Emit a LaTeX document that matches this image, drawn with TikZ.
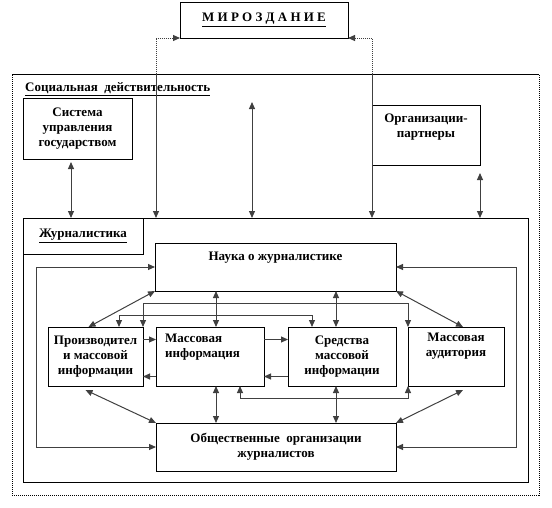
\documentclass[tikz,border=0pt]{standalone}
\usepackage{fontspec}
\setmainfont{Liberation Serif}
\usetikzlibrary{arrows.meta}

\begin{document}
\begin{tikzpicture}[x=1pt, y=-1pt,
  >={Triangle[length=7pt,width=6pt]},
  txt/.style={font=\bfseries\fontsize{13}{15}\selectfont, align=center, inner sep=0pt},
  box/.style={draw=black, line width=0.8pt, inner sep=0pt, outer sep=0pt, anchor=north west, txt},
  dots/.style={dash pattern=on 1pt off 1pt},
  link/.style={draw=black!75, line width=1pt},
  dotlink/.style={draw=black!75, line width=1pt, dots}]
\useasboundingbox (0,0) rectangle (552,507);

% outer frames
\node[box, dots, minimum width=527, minimum height=421] (soc) at (12,74) {};
\draw[line width=0.8pt] (soc.north west) -- (soc.north east);
\node[txt, anchor=west] (soclab) at (25,89) {\underline{Социальная\ \ действительность}};
\node[box, minimum width=168, minimum height=36] (mir) at (180,2) {\underline{М И Р О З Д А Н И Е}};
\node[box, minimum width=109, minimum height=61] (sys) at (23,98) {Система\\управления\\государством};
\node[box, minimum width=108, minimum height=60,
  label={[txt, anchor=north, yshift=-9pt]north:Организации-\\партнеры}] (org) at (372,105) {};
\node[box, minimum width=505, minimum height=264] (jour) at (23,218) {};
\node[box, minimum width=120, minimum height=36] (jourlab) at (23,218) {\underline{Журналистика}};

% inner boxes
\node[box, minimum width=241, minimum height=48,
  label={[txt, anchor=north, yshift=-9pt]north:Наука о журналистике}] (nauka) at (155,243) {};
\node[box, minimum width=95, minimum height=59] (proizv) at (48,327) {Производител\\и массовой\\информации};
\node[box, minimum width=108, minimum height=59,
  label={[txt, anchor=north west, align=left, xshift=9pt, yshift=-7pt]north west:Массовая\\информация}] (massinf) at (156,327) {};
\node[box, minimum width=108, minimum height=59] (smi) at (288,327) {Средства\\массовой\\информации};
\node[box, minimum width=96, minimum height=59,
  label={[txt, anchor=north, yshift=-6pt]north:Массовая\\аудитория}] (aud) at (408,327) {};
\node[box, minimum width=240, minimum height=48] (obsch) at (156,423) {Общественные\ \ организации\\журналистов};

% links to the outside
\coordinate (wl) at (156,74);
\coordinate (wr) at (372,74);
\coordinate (mid) at (252,102);
\draw[dotlink, <-] (mir.south west) -| (wl);
\draw[dotlink, <-] (mir.south east) -| (wr);
\draw[link, ->] (wl) -- (wl |- jour.north);
\draw[link, ->] (wr) -- (wr |- jour.north);
\draw[link, <->] (mid) -- (mid |- jour.north);
\draw[link, <->] ([xshift=-6.5pt,yshift=-3pt]sys.south) -- ([xshift=-6.5pt]sys.south |- jour.north);
\draw[link, <->] ([yshift=-8pt]org.south east) -- (org.south east |- jour.north);

% links inside
\draw[link, <->] (nauka.south west) -- ([xshift=-7pt]proizv.north);
\draw[link, <->] (nauka.south east) -- ([xshift=7pt]aud.north);
\draw[link, <->] ([xshift=6pt]massinf.north |- nauka.south) -- ([xshift=6pt]massinf.north);
\draw[link, <->] ([xshift=-6pt]smi.north |- nauka.south) -- ([xshift=-6pt]smi.north);
\draw[link, <->] (proizv.north east) |- ++(0,-24) -| (aud.north west);
\draw[link, <->] ([xshift=-24pt]proizv.north east) |- ++(0,-12) -| ([xshift=24pt]smi.north west);
\draw[link, ->] ([yshift=17pt]proizv.east) -- ([yshift=17pt]massinf.west);
\draw[link, ->] ([yshift=-20pt]massinf.west) -- ([yshift=-20pt]proizv.east);
\draw[link, ->] ([yshift=17pt]massinf.east) -- ([yshift=17pt]smi.west);
\draw[link, ->] ([yshift=-20pt]smi.west) -- ([yshift=-20pt]massinf.east);
\draw[link, <->] ([xshift=-24pt]massinf.south east) |- ++(0,12) -| (aud.south west);
\draw[link, <->] ([xshift=6pt]massinf.south) -- ([xshift=6pt]massinf.south |- obsch.north);
\draw[link, <->] ([xshift=-6pt]smi.south) -- ([xshift=-6pt]smi.south |- obsch.north);
\draw[link, <->] ([xshift=-10pt,yshift=-4pt]proizv.south) -- (obsch.north west);
\draw[link, <->] ([xshift=7pt,yshift=-4pt]aud.south) -- (obsch.north east);
\draw[link, <->] (nauka.west) -- ++(-119,0) |- (obsch.west);
\draw[link, <->] (nauka.east) -- ++(120,0) |- (obsch.east);
\end{tikzpicture}
\end{document}
